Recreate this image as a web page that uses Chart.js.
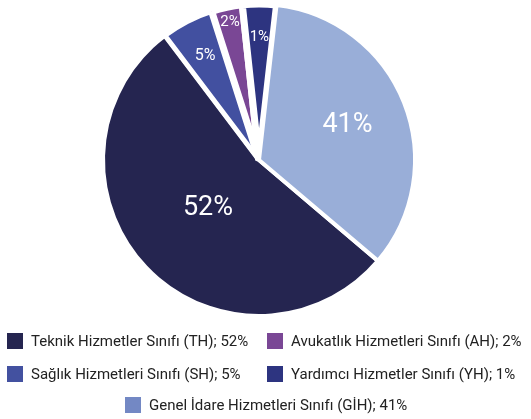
<!DOCTYPE html>
<html>
<head>
<meta charset="utf-8">
<script src="https://cdn.jsdelivr.net/npm/chart.js@4.4.1/dist/chart.umd.min.js"></script>
<style>
    body { margin: 0; background: #fff; font-family: Roboto, sans-serif; }
    #wrap { position: relative; width: 531px; height: 419px; overflow: hidden; }
    #pieChart { position: absolute; left: 0; top: 0; }
    .item { position: absolute; display: flex; align-items: center; font-size: 15px; color: #222; white-space: nowrap; }
    .box { width: 16px; height: 16px; margin-right: 8px; flex: none; }
</style>
</head>
<body>
<div id="wrap">
    <canvas id="pieChart" width="531" height="419"></canvas>
    <div id="legend"></div>
</div>
<script>
    // kadro sınıfları, dilim büyüklükleri resimdeki açılardan okundu
    const categories = [
        'Teknik Hizmetler Sınıfı (TH)',
        'Sağlık Hizmetleri Sınıfı (SH)',
        'Avukatlık Hizmetleri Sınıfı (AH)',
        'Yardımcı Hizmetler Sınıfı (YH)',
        'Genel İdare Hizmetleri Sınıfı (GİH)'
    ];
    const values = [53.5, 5.4, 3.2, 3.5, 34.4];
    const percentLabels = ['52%', '5%', '2%', '1%', '41%'];

    const sliceColors = ['#252550', '#4250a0', '#7a4795', '#2d3480', '#99aed8'];
    const swatchColors = ['#252550', '#4351a0', '#7a4795', '#2d3480', '#7388c4'];
    const sliceBorders = [4, 5, 7, 7, 4];
    const labelRadius = [0.45, 0.75, 0.9, 0.79, 0.61];
    const labelSize = [27, 16, 15, 15, 27];
    // legend: [left, centerY] for each category
    const legendPos = [[7, 341], [7, 374], [267, 341], [267, 374], [125, 405]];

    const sliceLabels = {
        id: 'sliceLabels',
        afterDatasetsDraw(chart) {
            const ctx = chart.ctx;
            chart.getDatasetMeta(0).data.forEach((arc, i) => {
                const mid = (arc.startAngle + arc.endAngle) / 2;
                const r = arc.outerRadius * labelRadius[i];
                ctx.save();
                ctx.fillStyle = '#fff';
                ctx.font = labelSize[i] + 'px Roboto';
                ctx.textAlign = 'center';
                ctx.textBaseline = 'middle';
                ctx.fillText(percentLabels[i], arc.x + Math.cos(mid) * r, arc.y + Math.sin(mid) * r);
                ctx.restore();
            });
        }
    };

    new Chart(document.getElementById('pieChart'), {
        type: 'pie',
        data: {
            labels: categories,
            datasets: [{
                data: values,
                backgroundColor: sliceColors,
                borderColor: '#fff',
                borderWidth: sliceBorders
            }]
        },
        options: {
            responsive: false,
            animation: false,
            rotation: 130.3,
            radius: 156,
            layout: { padding: { left: 0, right: 13, top: 0, bottom: 99 } },
            plugins: {
                legend: { display: false },
                tooltip: { enabled: false }
            }
        },
        plugins: [sliceLabels]
    });

    // legend as plain html so the 2-column + centered last row layout fits
    const legend = document.getElementById('legend');
    categories.forEach((name, i) => {
        const item = document.createElement('div');
        item.className = 'item';
        item.style.left = legendPos[i][0] + 'px';
        item.style.top = (legendPos[i][1] - 10) + 'px';
        item.style.height = '20px';
        item.innerHTML = '<span class="box" style="background:' + swatchColors[i] + '"></span>' +
            name + '; ' + percentLabels[i];
        legend.appendChild(item);
    });
</script>
</body>
</html>
